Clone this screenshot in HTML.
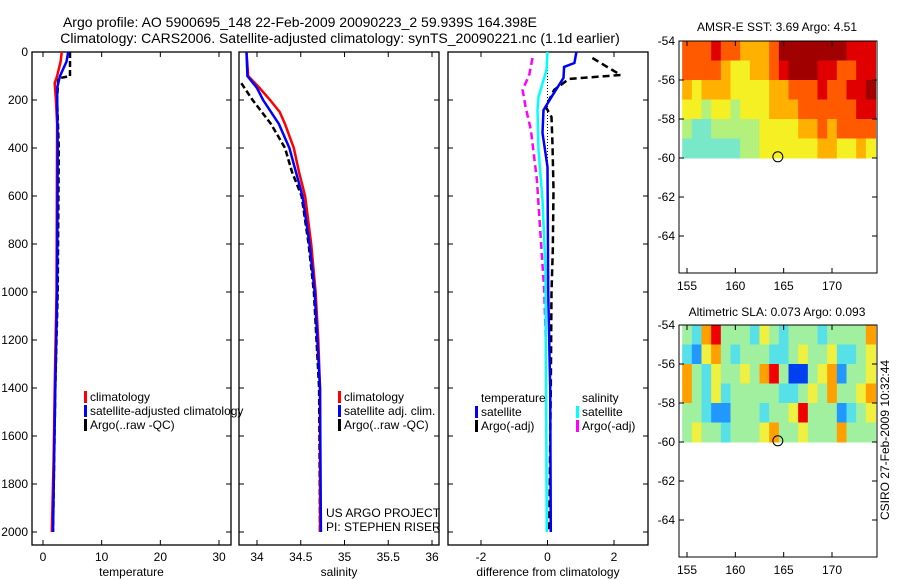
<!DOCTYPE html>
<html><head><meta charset="utf-8"><style>
body{margin:0;background:#fff}
svg{display:block;font-family:"Liberation Sans",sans-serif}
</style></head><body>
<svg id="s" width="900" height="580" viewBox="0 0 900 580">
<text x="300" y="27" font-size="14" text-anchor="middle">Argo profile: AO 5900695_148 22-Feb-2009 20090223_2 59.939S 164.398E</text>
<text x="340" y="43" font-size="14" text-anchor="middle">Climatology: CARS2006. Satellite-adjusted climatology: synTS_20090221.nc (1.1d earlier)</text>
<text x="777" y="31" font-size="12" text-anchor="middle">AMSR-E SST: 3.69 Argo: 4.51</text>
<text x="777" y="316" font-size="12" text-anchor="middle">Altimetric SLA: 0.073 Argo: 0.093</text>
<text transform="translate(889,440) rotate(-90)" font-size="12" text-anchor="middle">CSIRO 27-Feb-2009 10:32:44</text>
</svg>
<script>
// ---------- data ----------
const depthTicks=[0,200,400,600,800,1000,1200,1400,1600,1800,2000];
const tempTicks=[0,10,20,30];
const salTicks=[34,34.5,35,35.5,36];
const diffTicks=[-2,0,2];
const tClimD=[0,40,100,130,200,300,1000,1400,1700,2000];
const tClimV=[3.2,3.0,2.4,2.0,2.2,2.4,2.3,2.0,1.8,1.5];
const tSatD=[0,40,100,150,400,1000,1400,1700,2000];
const tSatV=[4.3,4.0,2.9,2.4,2.5,2.4,2.1,1.9,1.7];
const tArgoD=[0,100,110,200,400,1000,1400,2000];
const tArgoV=[4.6,4.6,2.6,2.4,2.7,2.5,2.1,1.7];
const sClimD=[0,100,150,200,250,300,400,500,600,800,1000,1200,1400,2000];
const sClimV=[33.88,33.9,34.03,34.15,34.26,34.32,34.42,34.48,34.55,34.62,34.67,34.7,34.72,34.72];
const sSatD=[0,100,150,200,300,400,600,800,1000,1400,2000];
const sSatV=[33.88,33.89,34.0,34.07,34.25,34.37,34.52,34.6,34.66,34.72,34.73];
const sArgoD=[130,200,300,400,500,600,800,1000,1400,2000];
const sArgoV=[33.82,33.95,34.16,34.32,34.4,34.51,34.59,34.65,34.71,34.72];
const dTSatD=[0,46,62,108,187,242,337,479,1000,1400,2000];
const dTSatV=[0.87,0.81,0.5,0.48,0.12,-0.12,-0.15,0.0,0.02,0.08,0.1];
const dTArgoD=[25,75,96,112,158,229,271,387,575,825,1000,1400,2000];
const dTArgoV=[1.35,1.95,2.2,0.65,0.2,-0.05,0.12,0.15,0.18,0.16,0.12,0.1,0.05];
const dSSatD=[0,75,187,242,408,616,908,1200,2000];
const dSSatV=[0.0,-0.03,-0.27,-0.3,-0.27,-0.15,-0.06,-0.05,-0.02];
const dSArgoD=[25,96,158,229,325,533,741,992,1200];
const dSArgoV=[-0.45,-0.55,-0.75,-0.66,-0.5,-0.32,-0.22,-0.1,-0.05];
const mapLonTicks=[155,160,165,170];
const mapLatTicks=[-54,-56,-58,-60,-62,-64];
const sstGrid=[
[7,7,7,8,7,7,6,6,6,7,9,9,9,9,9,9,9,8,8,8],
[7,7,7,7,6,5,5,6,6,7,8,9,9,9,8,8,7,7,8,8],
[6,5,6,6,6,5,5,5,5,6,6,7,7,7,8,7,7,8,8,9],
[5,5,4,5,5,4,5,5,5,6,6,6,7,7,7,7,7,7,8,8],
[4,3,3,4,4,4,4,4,5,5,5,5,6,6,7,6,7,7,7,7],
[3,3,3,3,3,3,4,4,5,5,5,5,5,5,6,6,5,5,6,5]];
const slaGrid=[
[0,-1,2,3,0,0,0,-1,1,0,-1,0,0,0,-1,0,0,0,0,2],
[-1,-2,1,2,0,-1,0,0,0,-1,-1,0,1,0,0,1,-1,-1,0,1],
[2,0,-1,1,0,0,1,0,2,3,0,-3,-3,0,1,2,-2,0,0,1],
[2,0,-1,1,-1,0,0,0,0,0,-1,-1,0,1,0,2,0,0,1,2],
[0,0,-1,-2,-2,0,0,0,-1,0,0,1,3,0,0,0,-2,-1,0,1],
[0,1,0,0,-1,0,0,0,1,2,0,0,1,0,0,0,2,0,0,0]];
const argoLon=164.398, argoLat=-59.939;
// ---------- drawing ----------
const NS='http://www.w3.org/2000/svg', S=document.getElementById('s');
function mk(t,a,p){const e=document.createElementNS(NS,t);for(const k in a)e.setAttribute(k,a[k]);(p||S).appendChild(e);return e;}
function lin(d0,d1,r0,r1){return v=>r0+(v-d0)*(r1-r0)/(d1-d0);}
const yD=lin(0,2000,52,532);
const panels=[
 {x0:32,x1:231,xs:lin(0,30,43,219),ticks:tempTicks,label:'temperature',name:'temperature'},
 {x0:239,x1:439,xs:lin(34,36,257,432),ticks:salTicks,label:'salinity',name:'salinity'},
 {x0:448,x1:648,xs:lin(-2,2,481,614),ticks:diffTicks,label:'difference from climatology',name:'difference'}];
panels.forEach((p,i)=>{
 const g=mk('g',{});
 
 
 const r=mk('rect',{x:p.x0,y:52,width:p.x1-p.x0,height:493,fill:'none',stroke:'#000','stroke-width':1.3},g);
 
 
 p.ticks.forEach(t=>{const x=p.xs(t);
  mk('line',{x1:x,x2:x,y1:545,y2:540,stroke:'#000'},g);
  mk('line',{x1:x,x2:x,y1:52,y2:57,stroke:'#000'},g);
  const tx=mk('text',{x:x,y:561,'font-size':12,'text-anchor':'middle'},g);tx.textContent=t;
  
  });
 depthTicks.forEach(d=>{const y=yD(d);
  mk('line',{x1:p.x0,x2:p.x0+5,y1:y,y2:y,stroke:'#000'},g);
  mk('line',{x1:p.x1,x2:p.x1-5,y1:y,y2:y,stroke:'#000'},g);
  if(i==0){const tx=mk('text',{x:28,y:y+4,'font-size':12,'text-anchor':'end'},g);tx.textContent=d;
   
   }});
 const xl=mk('text',{x:(p.x0+p.x1)/2,y:576,'font-size':12,'text-anchor':'middle'},g);xl.textContent=p.label;
 
 
});
function prof(D,V,xs,col,dash,w,name){
 const pts=D.map((d,k)=>xs(V[k]).toFixed(1)+','+yD(d).toFixed(1)).join(' ');
 const e=mk('polyline',{points:pts,fill:'none',stroke:col,'stroke-width':w,'stroke-dasharray':dash||'none'});
 
 
}
const P=panels;
prof(tArgoD,tArgoV,P[0].xs,'#000','6,3',2.5,'temp-argo-line');
prof(tClimD,tClimV,P[0].xs,'#f00','',2.5,'temp-climatology-line');
prof(tSatD,tSatV,P[0].xs,'#00f','',2.5,'temp-satellite-line');
prof(sArgoD,sArgoV,P[1].xs,'#000','6,3',2.5,'sal-argo-line');
prof(sClimD,sClimV,P[1].xs,'#f00','',2.5,'sal-climatology-line');
prof(sSatD,sSatV,P[1].xs,'#00f','',2.5,'sal-satellite-line');
const z=mk('line',{x1:P[2].xs(0),x2:P[2].xs(0),y1:52,y2:yD(1000),stroke:'#000','stroke-dasharray':'1,2'});


prof(dSArgoD,dSArgoV,P[2].xs,'#f0f','7,4',2.5,'diff-sal-argo-line');
prof(dSSatD,dSSatV,P[2].xs,'#0ff','',2.5,'diff-sal-satellite-line');
prof(dTArgoD,dTArgoV,P[2].xs,'#000','7,4',2.5,'diff-temp-argo-line');
prof(dTSatD,dTSatV,P[2].xs,'#00f','',2.5,'diff-temp-satellite-line');
function leg(x,y,col,txt,name){
 if(col){const r=mk('rect',{x:x-6,y:y-10,width:3,height:12,fill:col});
  
  }
 const t=mk('text',{x:x,y:y,'font-size':12});t.textContent=txt;
 
 
}
leg(90,401,'#f00','climatology','legend-climatology');
leg(90,415,'#00f','satellite-adjusted climatology','legend-satellite-adjusted');
leg(90,429,'#000','Argo(..raw -QC)','legend-argo-raw');
leg(344,401,'#f00','climatology','legend-sal-climatology');
leg(344,415,'#00f','satellite adj. clim.','legend-sal-satellite');
leg(344,429,'#000','Argo(..raw -QC)','legend-sal-argo');
leg(481,402,null,'temperature','legend-temperature-heading');
leg(481,416,'#00f','satellite','legend-temp-satellite');
leg(481,430,'#000','Argo(-adj)','legend-temp-argo');
leg(582,402,null,'salinity','legend-salinity-heading');
leg(582,416,'#0ff','satellite','legend-sal-satellite-diff');
leg(582,430,'#f0f','Argo(-adj)','legend-sal-argo-diff');
leg(326,517,null,'US ARGO PROJECT','project-credit');
leg(326,531,null,'PI: STEPHEN RISER','pi-credit');
// maps
const sstCol={3:'#78e8c8',4:'#b4f07c',5:'#f4f024',6:'#ffb000',7:'#ff5a00',8:'#e00000',9:'#a00000'};
const slaCol={'-3':'#0040f0','-2':'#2098ff','-1':'#58e0e8','0':'#a0f0a0','1':'#f0f040','2':'#ffa000','3':'#f00000'};
function map(top,grid,cols,name){
 const xs=lin(155,170,687,832), ys=lin(-54,-60,top,top+117);
 const g=mk('g',{});
 
 
 const bg=mk('rect',{x:679,y:top,width:198,height:232,fill:'#fff'},g);
 grid.forEach((row,r)=>row.forEach((v,c)=>{
  const x0=xs(154.5+c),y0=ys(-54-r);
  const cell=mk('rect',{x:x0,y:y0,width:xs(155.5+c)-x0+0.5,height:ys(-55-r)-y0+0.5,fill:cols[v]},g);
  
  }));
 const f=mk('rect',{x:679,y:top,width:198,height:232,fill:'none',stroke:'#000'},g);
 
 
 mapLatTicks.forEach(t=>{const y=ys(t);
  mk('line',{x1:679,x2:684,y1:y,y2:y,stroke:'#000'},g);
  mk('line',{x1:877,x2:872,y1:y,y2:y,stroke:'#000'},g);
  const tx=mk('text',{x:675,y:y+4,'font-size':12,'text-anchor':'end'},g);tx.textContent=t;
  
  });
 mapLonTicks.forEach(t=>{const x=xs(t);
  mk('line',{x1:x,x2:x,y1:top,y2:top+5,stroke:'#000'},g);
  mk('line',{x1:x,x2:x,y1:top+232,y2:top+227,stroke:'#000'},g);
  const tx=mk('text',{x:x,y:top+249,'font-size':12,'text-anchor':'middle'},g);tx.textContent=t;
  
  });
 const c=mk('circle',{cx:xs(argoLon),cy:ys(argoLat),r:5,fill:'none',stroke:'#000'},g);
 
 
}
map(41,sstGrid,sstCol,'sst-map');
map(325,slaGrid,slaCol,'sla-map');
</script>
</body></html>
